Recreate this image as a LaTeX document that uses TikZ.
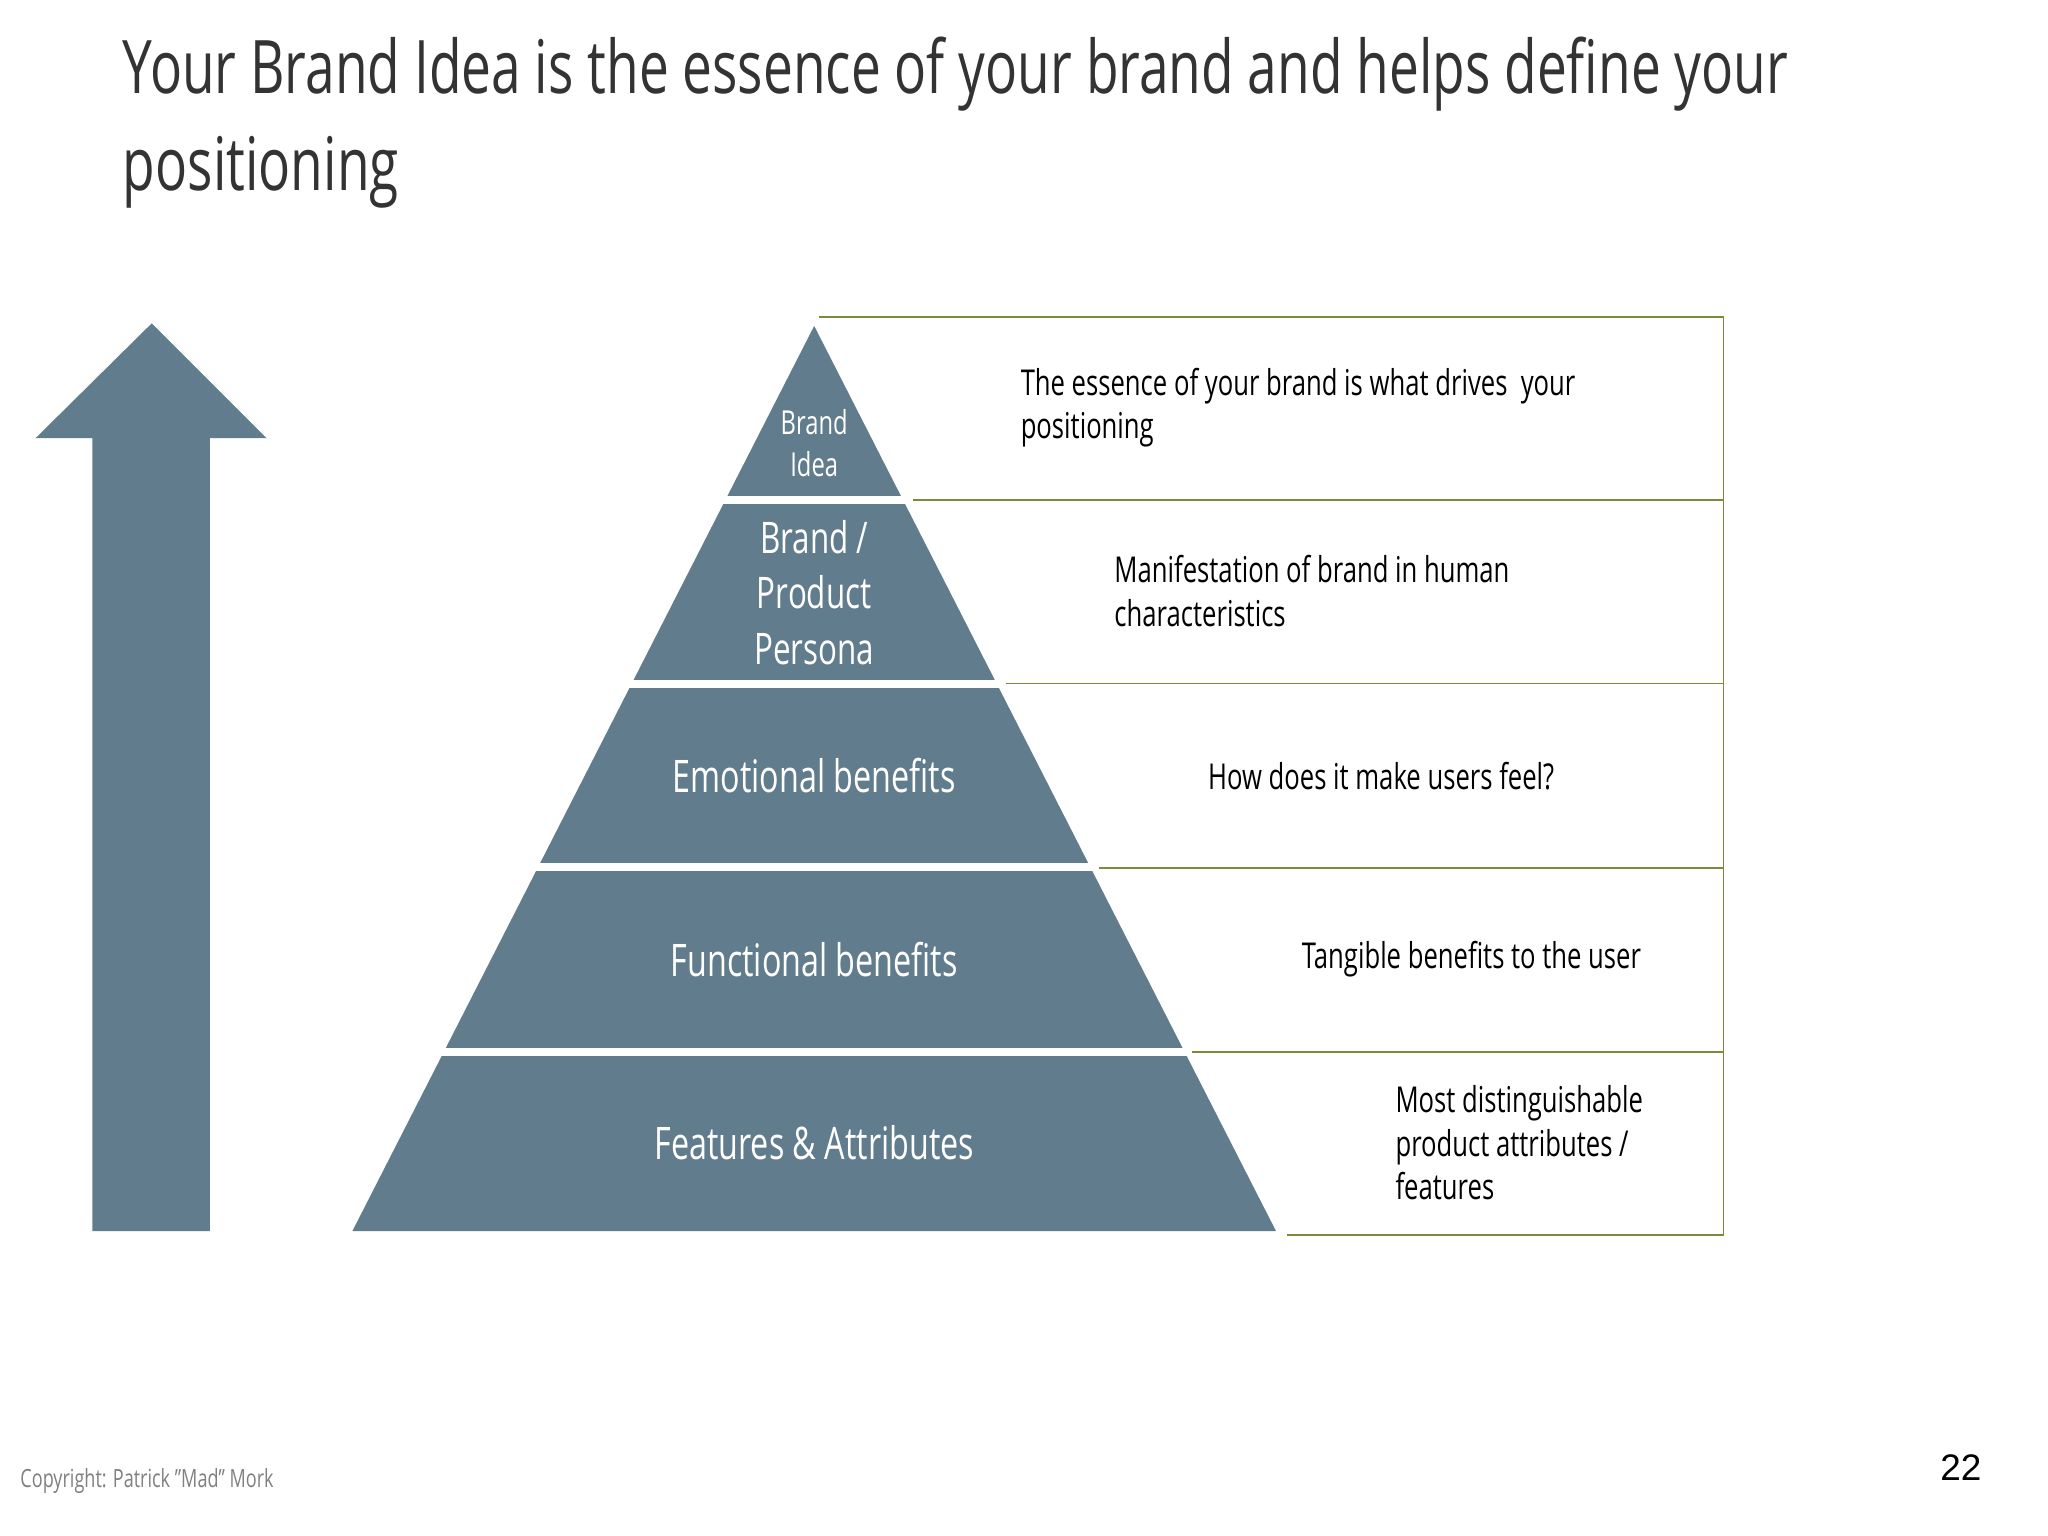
\documentclass[tikz,border=0pt]{standalone}
\usepackage{fontspec}
\setmainfont{Open Sans}[FakeStretch=0.72]
\newfontfamily\arialf{Liberation Sans}
\definecolor{slate}{HTML}{617C8C}
\definecolor{olive}{HTML}{7A8C3A}
\begin{document}
\begin{tikzpicture}[x=1pt,y=-1pt,
  desc/.style={anchor=west,align=left,font=\fontsize{27}{33}\selectfont,text=black},
  pyr/.style={align=center,text=white},
  gap/.style={white,line width=6pt},
  grn/.style={olive,line width=1.3pt}]
\useasboundingbox[fill=white] (0,0) rectangle (1552,1164);
\node[anchor=north west,align=left,font=\fontsize{56}{73}\selectfont,text=black!80,inner sep=0] (title) at (93,28) {Your Brand Idea is the essence of your brand and helps define your\\positioning};
% arrow
\fill[slate] (70,933) -- (70,332) -- (27,332) -- (115,245) -- (202,332) -- (159,332) -- (159,933) -- cycle;
% pyramid
\coordinate (apex) at (617,247);
\fill[slate] (apex) -- (967,933) -- (267,933) -- cycle;
\foreach \y in {379,518,657,797}{\draw[gap] (200,\y) -- (1000,\y);}
% green frame
\draw[grn] (621,240) -- (1306,240) -- (1306,936) -- (975,936);
\draw[grn] (692,379) -- (1306,379);
\draw[grn] (762,518) -- (1306,518);
\draw[grn] (833,658) -- (1306,658);
\draw[grn] (903,797) -- (1306,797);
% pyramid labels
\node[pyr,font=\fontsize{25}{32}\selectfont] (l1) at (617,336) {Brand\\Idea};
\node[pyr,font=\fontsize{33}{42}\selectfont] (l2) at (617,449) {Brand /\\Product\\Persona};
\node[pyr,font=\fontsize{34}{40}\selectfont] (l3) at (617,588) {Emotional benefits};
\node[pyr,font=\fontsize{34}{40}\selectfont] (l4) at (617,727) {Functional benefits};
\node[pyr,font=\fontsize{34}{40}\selectfont] (l5) at (617,866) {Features \& Attributes};
% descriptions
\node[desc] (d1) at (770,309) {The essence of your brand is what drives\ \ your\\positioning};
\node[desc] (d2) at (841,448) {Manifestation of brand in human\\characteristics};
\node[desc] (d3) at (912,588) {How does it make users feel?};
\node[desc] (d4) at (983,727) {Tangible benefits to the user};
\node[desc] (d5) at (1054,866) {Most distinguishable\\product attributes /\\features};
% footer
\node[anchor=west,font=\fontsize{19}{22}\selectfont,text=black!50] (copy) at (12,1122) {Copyright: Patrick ”Mad” Mork};
\node[font=\arialf\fontsize{28}{32}\selectfont] (pg) at (1486,1112) {22};
\end{tikzpicture}
\end{document}
